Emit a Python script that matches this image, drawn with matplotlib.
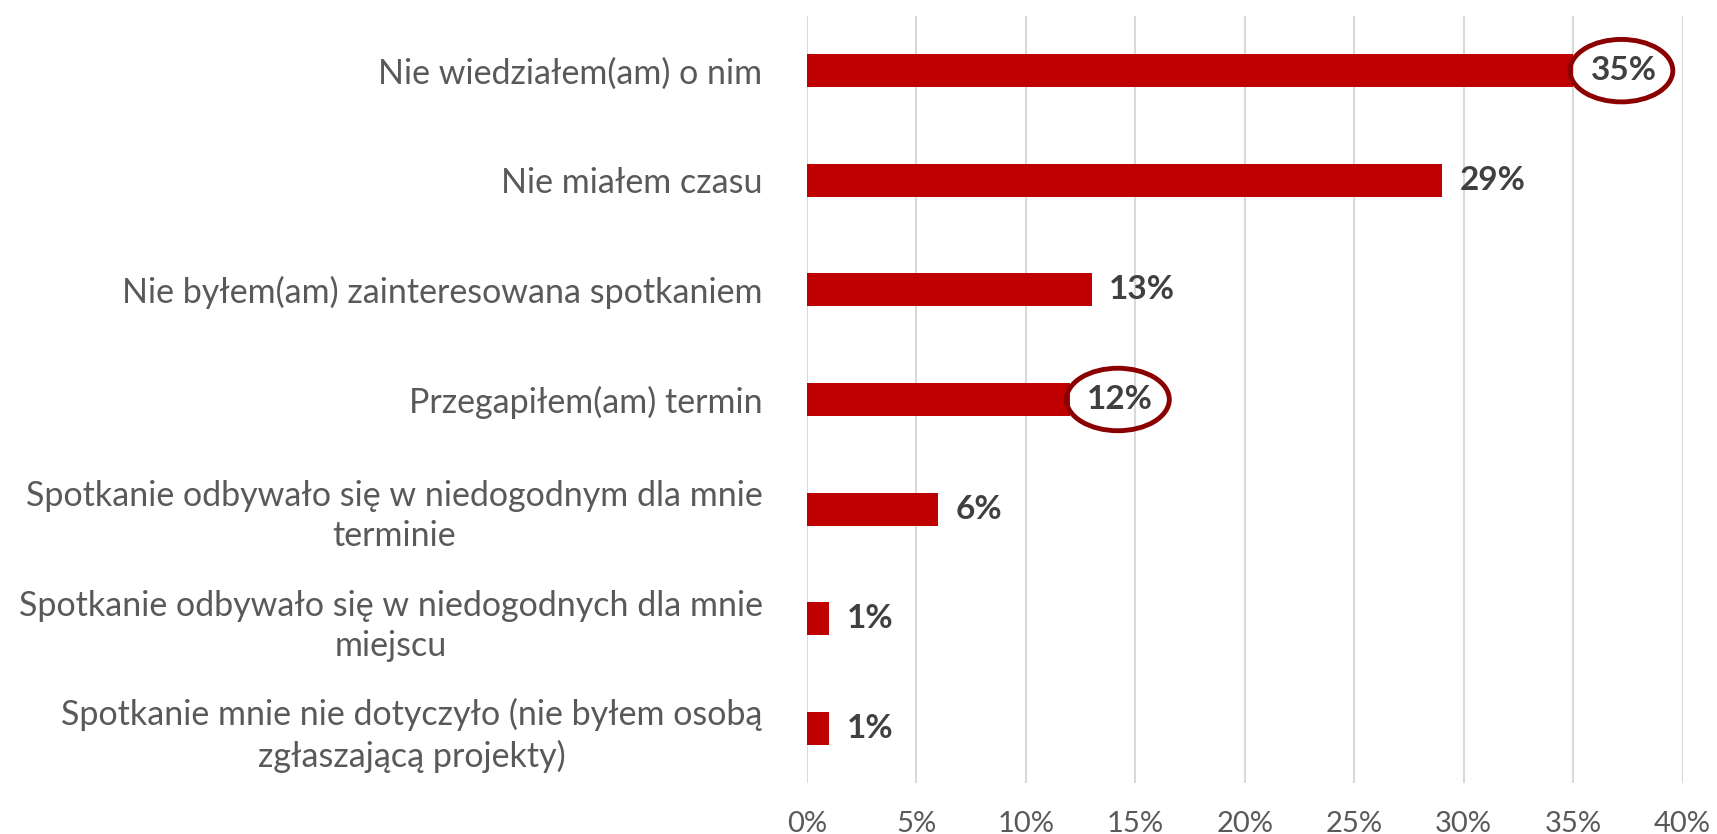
import matplotlib
matplotlib.use("Agg")
import matplotlib.pyplot as plt
from matplotlib.patches import Ellipse
from matplotlib.ticker import MultipleLocator, FuncFormatter

categories = [
    "Nie wiedziałem(am) o nim",
    "Nie miałem czasu",
    "Nie byłem(am) zainteresowana spotkaniem",
    "Przegapiłem(am) termin",
    "Spotkanie odbywało się w niedogodnym dla mnie\nterminie",
    "Spotkanie odbywało się w niedogodnych dla mnie\nmiejscu",
    "Spotkanie mnie nie dotyczyło (nie byłem osobą\nzgłaszającą projekty)",
]
values = [35, 29, 13, 12, 6, 1, 1]
circled = [0, 3]

plt.rcParams['font.family'] = ['Lato', 'DejaVu Sans']

fig = plt.figure(figsize=(17.17, 8.34), dpi=100)
ax = fig.add_axes([0.470, 0.061, 0.510, 0.920])

ypos = list(range(len(categories)))
ax.barh(ypos, values, height=0.3, color="#C00000", zorder=3)
ax.set_ylim(len(categories) - 0.5, -0.5)
ax.set_xlim(0, 40)
ax.xaxis.set_major_locator(MultipleLocator(5))
ax.xaxis.set_major_formatter(FuncFormatter(lambda v, p: f"{int(round(v))}%"))
ax.grid(axis="x", color="#D9D9D9", linewidth=1.5, zorder=0)
for s in ax.spines.values():
    s.set_visible(False)
ax.set_yticks(ypos)
ax.set_yticklabels(categories, multialignment="center", linespacing=1.3)
ax.tick_params(axis="y", length=0, pad=32, labelsize=24.5, labelcolor="#595959")
ax.tick_params(axis="x", length=0, pad=20, labelsize=21, labelcolor="#595959")

for i, v in enumerate(values):
    ax.text(v + 0.8, i, f"{v}%", va="center", ha="left", fontsize=24,
            fontweight="bold", color="#404040", zorder=5)

for i in circled:
    e = Ellipse((values[i] + 2.2, i), width=4.7, height=0.57, fill=False,
                edgecolor="#8B0000", linewidth=3.5, zorder=6)
    ax.add_patch(e)

fig.savefig("out.png", dpi=100, facecolor="white")
